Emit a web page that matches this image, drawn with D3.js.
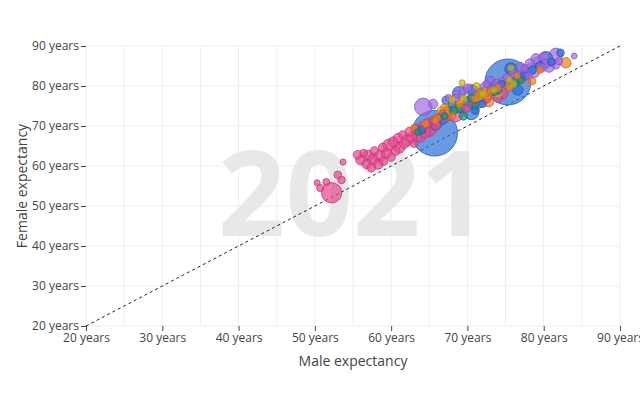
<!DOCTYPE html>
<html>
<head>
<meta charset="utf-8">
<script src="https://cdn.jsdelivr.net/npm/d3@7"></script>
<style>
  body { margin: 0; background: #fff; }
  text { font-family: "Open Sans", "Noto Sans", sans-serif; }
</style>
</head>
<body>
<div id="chart"></div>
<script>
// life expectancy in 2021
const year = "2021";
const xTicks = [20, 30, 40, 50, 60, 70, 80, 90];
const yTicks = [20, 30, 40, 50, 60, 70, 80, 90];

const regions = ["Africa", "Asia", "Europe", "Americas", "South America", "Oceania"];
const regionColors = ["#e8478f", "#2a6fd6", "#a269e3", "#f3801c", "#d4b41a", "#0f9582"];

// [male, female, population in millions]
const africa = [
  [52.2,53.3,200],[50.3,55.8,1],[50.7,54.5,4],[51.5,56.0,3],[53.0,57.8,6],[53.5,56.5,5],[53.7,61.0,1],
  [55.6,62.8,12],[56.0,61.5,20],[56.4,63.2,6],[56.8,60.5,16],[57.0,62.6,30],[57.4,59.6,12],[57.6,61.6,30],
  [57.8,63.8,9],[58.3,60.4,20],[58.5,62.5,36],[58.9,64.6,12],[59.0,61.2,8],[59.4,63.2,25],[59.7,65.2,45],
  [60.0,62.2,9],[60.3,66.0,25],[60.6,63.8,14],[60.9,67.0,16],[61.1,64.6,30],[61.5,67.8,9],[61.7,65.6,20],
  [62.1,66.4,40],[62.4,68.6,12],[62.7,67.2,25],[63.0,65.6,6],[63.3,69.2,16],[63.7,67.6,60],[64.1,70.0,10],
  [64.4,68.4,30],[64.8,70.8,14],[65.1,69.0,45],[65.5,71.5,6],[65.9,70.2,20],[66.2,72.2,4],[66.8,73.2,3],
  [67.2,72.0,9],[68.4,73.0,100],[71.5,76.0,40],[72.5,76.8,12],[74.5,78.2,44],[73.2,78.9,7],[74.0,77.0,15],
  [69.8,74.4,6],[70.8,75.2,10]
];
const asia = [
  [65.7,68.2,1410],[75.3,81.0,1425],[70.5,73.5,90],[65.8,70.5,45],[68.9,78.3,50],[75.7,84.3,45],
  [76.6,79.0,25],[80.3,87.0,55],[82.2,88.3,6],[67.5,73.5,30],[69.0,74.5,20],[70.0,76.0,14],
  [71.5,77.2,30],[72.5,78.5,25],[73.5,80.0,16],[74.0,79.0,9],[76.0,81.0,12],[77.5,82.5,8],
  [78.5,84.0,9],[79.5,85.0,12],[81.0,86.0,5],[64.0,69.0,10],[68.0,75.5,6],[66.8,71.5,12],
  [70.8,78.8,25],[72.0,75.5,4],[74.5,80.5,3],[71.0,74.0,10],[67.2,76.4,8]
];
const europe = [
  [64.2,74.8,130],[65.5,75.5,16],[67.5,77.0,4],[68.5,78.0,6],[69.5,78.8,9],[70.5,79.0,36],
  [71.5,78.2,19],[72.2,79.8,10],[73.0,79.2,6],[73.8,80.6,10],[74.5,81.2,4],[75.2,82.0,10],
  [76.0,82.8,20],[76.8,82.2,30],[77.5,83.3,9],[78.0,82.5,4],[78.3,84.2,40],[78.8,83.3,17],
  [79.3,85.8,45],[79.8,84.6,10],[80.2,85.5,16],[80.7,84.8,30],[81.0,85.9,9],[81.6,87.8,60],
  [81.6,85.3,10],[82.0,86.2,5],[84.0,87.5,0.5],[77.5,84.5,3],[74.0,80.0,2],[72.5,80.5,3],
  [68.5,77.0,6],[79.0,86.8,25],[80.0,87.2,20],[70.0,79.5,8],[73.0,81.5,6],[77.0,84.8,12],
  [78.2,85.6,18]
];
const americas = [
  [82.9,85.8,25],[63.0,69.5,3],[64.5,70.5,5],[66.0,72.0,4],[67.3,73.8,12],[68.0,72.5,3],
  [69.0,75.5,6],[70.0,76.2,20],[71.0,76.8,4],[71.8,78.3,11],[72.6,77.5,8],[73.0,78.7,3],
  [74.0,79.5,2],[74.6,80.2,6],[75.5,79.6,5],[76.5,82.5,2],[77.2,81.6,10],[79.5,84.0,3],
  [78.5,81.2,4],[67.0,74.5,8],[65.8,71.3,3],[72.8,76.0,20]
];
const southAmerica = [
  [67.0,73.2,8],[68.5,75.0,19],[69.5,76.8,5],[70.5,76.5,30],[71.5,77.5,12],[72.0,78.0,3],
  [72.5,78.8,7],[73.5,79.0,2],[74.0,78.2,13],[75.5,81.5,2],[76.0,80.5,4],[69.3,80.8,1],
  [75.7,84.5,1],[66.5,73.8,5],[68.0,76.5,3],[71.2,80.0,3]
];
const oceania = [
  [67.0,72.5,3],[69.0,74.5,9],[70.5,77.0,5],[72.0,78.5,12],[73.5,78.5,4],[76.3,81.0,10],
  [77.0,81.5,3],[63.5,68.5,2],[68.2,73.8,6],[71.0,75.0,3],[69.5,72.5,9]
];

const series = [africa, asia, europe, americas, southAmerica, oceania];
const data = series.flatMap((rows, i) =>
  rows.map(([m, f, p]) => ({ male: m, female: f, pop: p, region: regions[i] }))
);

const width = 640, height = 400;
const margin = { top: 46, right: 20, bottom: 74, left: 86 };

const svg = d3.select("#chart")
  .append("svg")
  .attr("width", width)
  .attr("height", height);

const x = d3.scaleLinear().domain([20, 90]).range([margin.left, width - margin.right]);
const y = d3.scaleLinear().domain([20, 90]).range([height - margin.bottom, margin.top]);
const r = d3.scaleSqrt().domain([0, 1425]).range([2.5, 23]);
const color = d3.scaleOrdinal().domain(regions).range(regionColors);

// grid: every 5 years on x, every 10 on y
svg.append("g")
  .selectAll("line")
  .data(d3.range(20, 91, 5))
  .join("line")
  .attr("x1", d => x(d)).attr("x2", d => x(d))
  .attr("y1", y(20)).attr("y2", y(90))
  .attr("stroke", "#eeeeee");

svg.append("g")
  .selectAll("line")
  .data(yTicks)
  .join("line")
  .attr("x1", x(20)).attr("x2", x(90))
  .attr("y1", d => y(d)).attr("y2", d => y(d))
  .attr("stroke", "#eeeeee");

// year watermark
svg.append("text")
  .attr("x", (x(20) + x(90)) / 2)
  .attr("y", 236)
  .attr("text-anchor", "middle")
  .style("font-size", "118px")
  .style("font-weight", "bold")
  .style("fill", "#e5e5e5")
  .style("fill-opacity", 0.9)
  .text(year);

const fmt = d => d + " years";

const xAxis = svg.append("g")
  .attr("transform", `translate(0,${y(20)})`)
  .call(d3.axisBottom(x).tickValues(xTicks).tickFormat(fmt).tickSize(5).tickPadding(2));
xAxis.select(".domain").remove();
xAxis.selectAll(".tick line").attr("stroke", "#444");
xAxis.selectAll(".tick text").style("font-size", "12px").style("fill", "#444");

const yAxis = svg.append("g")
  .attr("transform", `translate(${x(20)},0)`)
  .call(d3.axisLeft(y).tickValues(yTicks).tickFormat(fmt).tickSize(5).tickPadding(2));
yAxis.select(".domain").remove();
yAxis.selectAll(".tick line").attr("stroke", "#444");
yAxis.selectAll(".tick text").style("font-size", "12px").style("fill", "#444");

// equal expectancy line
svg.append("line")
  .attr("x1", x(20)).attr("y1", y(20))
  .attr("x2", x(90)).attr("y2", y(90))
  .attr("stroke", "#222")
  .attr("stroke-width", 1)
  .attr("stroke-dasharray", "3,3");

// bubbles, biggest first so small ones stay visible
svg.append("g")
  .selectAll("circle")
  .data(data.slice().sort((a, b) => b.pop - a.pop))
  .join("circle")
  .attr("cx", d => x(d.male))
  .attr("cy", d => y(d.female))
  .attr("r", d => r(d.pop))
  .attr("fill", d => color(d.region))
  .attr("fill-opacity", 0.7)
  .attr("stroke", d => d3.color(color(d.region)).darker(0.6))
  .attr("stroke-width", 0.8);

svg.append("text")
  .attr("x", (x(20) + x(90)) / 2)
  .attr("y", 366)
  .attr("text-anchor", "middle")
  .style("font-size", "14px")
  .style("fill", "#444")
  .text("Male expectancy");

svg.append("text")
  .attr("transform", `translate(27,${(y(20) + y(90)) / 2}) rotate(-90)`)
  .attr("text-anchor", "middle")
  .style("font-size", "14px")
  .style("fill", "#444")
  .text("Female expectancy");
</script>
</body>
</html>
